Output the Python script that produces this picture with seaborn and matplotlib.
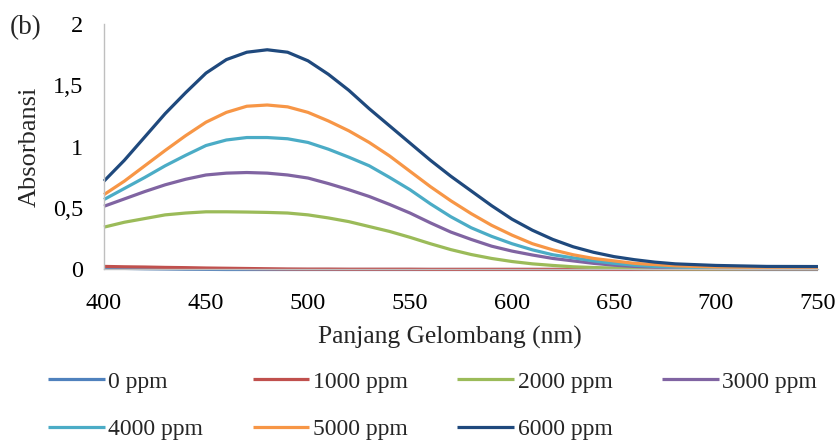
import numpy as np
import pandas as pd
import matplotlib
matplotlib.use("Agg")
import matplotlib.pyplot as plt
import seaborn as sns

wavelength = [400, 410, 420, 430, 440, 450, 460, 470, 480, 490, 500, 510, 520,
              530, 540, 550, 560, 570, 580, 590, 600, 610, 620, 630, 640, 650,
              660, 670, 680, 700, 725, 750]

ppm_0 = [0.012, 0.009, 0.006, 0.004, 0.002, 0.001, 0.0, 0.0, 0.0, 0.0, 0.0, 0.0, 0.0,
         0.0, 0.0, 0.0, 0.0, 0.0, 0.0, 0.0, 0.0, 0.0, 0.0, 0.0, 0.0, 0.0,
         0.0, 0.0, 0.0, 0.0, 0.0, 0.0]
ppm_1000 = [0.025, 0.022, 0.02, 0.017, 0.015, 0.012, 0.01, 0.008, 0.006, 0.004, 0.003, 0.003, 0.002,
            0.002, 0.002, 0.002, 0.001, 0.001, 0.001, 0.001, 0.001, 0.001, 0.001, 0.001, 0.001, 0.001,
            0.001, 0.001, 0.001, 0.001, 0.001, 0.001]
ppm_2000 = [0.345, 0.385, 0.415, 0.445, 0.46, 0.47, 0.47, 0.468, 0.465, 0.46, 0.445, 0.42, 0.39,
            0.35, 0.31, 0.262, 0.21, 0.162, 0.122, 0.09, 0.065, 0.046, 0.033, 0.022, 0.016, 0.012,
            0.008, 0.006, 0.005, 0.004, 0.003, 0.003]
ppm_3000 = [0.515, 0.575, 0.635, 0.69, 0.735, 0.77, 0.785, 0.79, 0.785, 0.77, 0.745, 0.70, 0.65,
            0.595, 0.53, 0.46, 0.38, 0.305, 0.245, 0.19, 0.15, 0.118, 0.09, 0.07, 0.05, 0.035,
            0.025, 0.018, 0.012, 0.008, 0.005, 0.005]
ppm_4000 = [0.57, 0.66, 0.75, 0.845, 0.93, 1.01, 1.055, 1.075, 1.075, 1.065, 1.035, 0.98, 0.915,
            0.845, 0.75, 0.65, 0.535, 0.43, 0.34, 0.27, 0.21, 0.16, 0.12, 0.095, 0.07, 0.05,
            0.035, 0.025, 0.02, 0.012, 0.01, 0.01]
ppm_5000 = [0.61, 0.72, 0.845, 0.97, 1.09, 1.20, 1.28, 1.33, 1.34, 1.325, 1.28, 1.21, 1.13,
            1.035, 0.925, 0.80, 0.675, 0.56, 0.455, 0.36, 0.28, 0.21, 0.16, 0.12, 0.09, 0.07,
            0.05, 0.04, 0.03, 0.02, 0.015, 0.015]
ppm_6000 = [0.72, 0.89, 1.08, 1.27, 1.44, 1.60, 1.71, 1.77, 1.79, 1.77, 1.70, 1.59, 1.46,
            1.31, 1.17, 1.03, 0.89, 0.76, 0.64, 0.52, 0.41, 0.32, 0.245, 0.185, 0.14, 0.105,
            0.08, 0.06, 0.046, 0.033, 0.025, 0.024]

series_labels = ["0 ppm", "1000 ppm", "2000 ppm", "3000 ppm",
                 "4000 ppm", "5000 ppm", "6000 ppm"]
series_values = [ppm_0, ppm_1000, ppm_2000, ppm_3000, ppm_4000, ppm_5000, ppm_6000]
colors = ["#4F81BD", "#C0504D", "#9BBB59", "#8064A2", "#4BACC6", "#F79646", "#1F497D"]

x_ticks = [400, 450, 500, 550, 600, 650, 700, 750]
y_ticks = [0, 0.5, 1, 1.5, 2]
y_tick_labels = ["0", "0,5", "1", "1,5", "2"]

rows = []
for lab, vals in zip(series_labels, series_values):
    for w, v in zip(wavelength, vals):
        rows.append({"wl": w, "abs": v, "series": lab})
df = pd.DataFrame(rows)

sns.set_theme(style="white")
plt.rcParams["font.family"] = ["Liberation Serif", "DejaVu Serif"]

fig = plt.figure(figsize=(8.4, 4.41), dpi=100)
ax = fig.add_axes([0.1238, 0.3889, 0.85, 0.5567])

sns.lineplot(data=df, x="wl", y="abs", hue="series", hue_order=series_labels,
             palette=colors, linewidth=2.3, ax=ax, sort=False, legend=True)
for ln in ax.lines:
    ln.set_clip_on(False)
    ln.set_solid_capstyle("butt")
    ln.set_solid_joinstyle("round")

ax.set_xlim(400, 750)
ax.set_ylim(0, 2)
ax.set_xticks(x_ticks)
ax.set_xticklabels([str(t) for t in x_ticks])
ax.set_yticks(y_ticks)
ax.set_yticklabels(y_tick_labels)
ax.tick_params(axis="both", length=0, labelsize=17.5, colors="#000000")
ax.tick_params(axis="y", pad=15)
ax.tick_params(axis="x", pad=17)
ax.set_xlabel("")
ax.set_ylabel("")
for s in ["top", "right"]:
    ax.spines[s].set_visible(False)
for s in ["left", "bottom"]:
    ax.spines[s].set_color("#BFBFBF")
    ax.spines[s].set_linewidth(1.0)

fig.text(450 / 840, 1 - 337 / 441, "Panjang Gelombang (nm)", ha="center", va="center", fontsize=18.4)
fig.text(30 / 840, 1 - 147 / 441, "Absorbansi", ha="center", va="center", rotation=90, fontsize=19)
fig.text(10 / 840, 1 - 28 / 441, "(b)", ha="left", va="center", fontsize=19.5)

handles, labels = ax.get_legend_handles_labels()
ax.get_legend().remove()
order = [0, 4, 1, 5, 2, 6, 3]
fig.legend([handles[i] for i in order], [labels[i] for i in order],
           loc="upper left", bbox_to_anchor=(48 / 840, 1 - 371 / 441),
           ncol=4, frameon=False, fontsize=17, handlelength=2.4, handletextpad=0.15,
           columnspacing=2.1, labelspacing=1.12, borderpad=0, borderaxespad=0)

fig.savefig("out.png", dpi=100)
